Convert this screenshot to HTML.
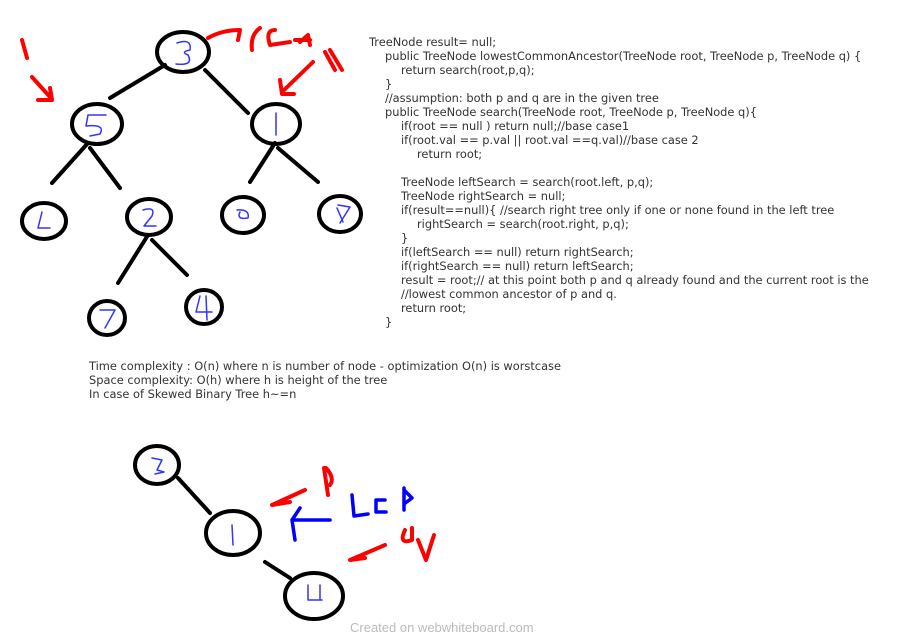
<!DOCTYPE html><html><head><style>
body{margin:0;width:897px;height:638px;background:#fff;position:relative;overflow:hidden;font-family:"DejaVu Sans",Verdana,sans-serif}
.c{position:absolute;left:369px;top:35px;font-size:11.4px;line-height:14px;color:#333;white-space:pre}
.c div{height:14px}
.i1{padding-left:16px}.i2{padding-left:32px}.i3{padding-left:48px}
.b{position:absolute;left:89px;top:359px;font-size:11.4px;line-height:14px;color:#333;white-space:pre}
.f{position:absolute;left:350px;top:620px;font-size:13px;color:#bbb;font-family:"Liberation Sans",sans-serif}
svg{position:absolute;left:0;top:0}
</style></head><body>
<svg width="897" height="638" fill="none" stroke-linecap="round" stroke-linejoin="round">
<g stroke="#000" stroke-width="4">
<ellipse cx="183" cy="52" rx="26" ry="20"/><ellipse cx="97" cy="124" rx="25" ry="20"/><ellipse cx="276" cy="124" rx="24" ry="20"/>
<ellipse cx="44" cy="221" rx="22" ry="18"/><ellipse cx="149" cy="217" rx="22" ry="18"/><ellipse cx="243" cy="215" rx="21" ry="18"/><ellipse cx="340" cy="214" rx="21" ry="18"/>
<ellipse cx="107" cy="318" rx="18" ry="17"/><ellipse cx="204" cy="307" rx="18" ry="17"/>
<path d="M165 65 L110 98 M205 70 L248 113 M88 143 L52 183 M90 148 L120 188 M275 143 L250 182 M278 148 L318 182 M148 235 L118 283 M152 240 L187 275"/>
<ellipse cx="157" cy="465" rx="22" ry="19"/><ellipse cx="233" cy="533" rx="27" ry="22"/><ellipse cx="314" cy="596" rx="29" ry="23"/>
<path d="M178 478 L210 513 M265 562 L290 578"/>
</g>
<g stroke="#f00" stroke-width="4">
<path d="M22 40 L27 58 M32 77 L50 97 M38 100 L52 100 L50 88"/>
<path d="M208 38 Q222 30 240 30 L238 40 M260 28 Q250 35 252 50 M275 30 Q265 30 270 45 L290 42 M300 42 L308 35 L310 45 M295 40 L310 40"/>
<path d="M313 62 L282 92 M280 80 L282 94 L294 94 M325 52 L335 70 M330 50 L342 70"/>
<path d="M305 490 L272 505 L290 502 M324 468 L328 495 M326 468 Q335 478 330 485"/>
<path d="M385 545 L350 560 L365 558 M405 530 Q398 545 412 540 L412 528 M418 540 L426 560 L434 535"/>
</g>
<g stroke="#00f" stroke-width="3.5"><path d="M330 520 L292 520 M300 508 L292 520 L295 540 M352 495 L354 516 L368 514 M385 500 L376 500 L376 512 L386 512 M404 488 L404 510 M404 490 L412 498 L404 504"/></g>
<g stroke="#33f" stroke-width="1.5">
<path d="M177 43 Q192 38 190 50 Q180 52 188 55 Q194 66 176 64"/><path d="M106 115 L88 115 L86 126 Q106 124 100 134 L90 136"/><path d="M276 113 L276 135"/>
<path d="M42 212 L38 228 L50 228"/><path d="M143 210 Q156 206 152 216 L144 226 L156 226"/><path d="M237 210 Q250 209 248 218 Q236 220 240 212"/><path d="M338 205 L350 207 L340 223 M337 208 L343 222"/>
<path d="M100 310 L115 310 L105 328"/><path d="M200 296 L196 312 L212 312 M206 296 L207 320"/>
<path d="M152 458 L162 460 L157 470 L164 472 L155 474"/><path d="M232 525 L233 545"/><path d="M308 585 L308 600 L322 600 M320 585 L320 600"/>
</g></svg>
<div class="c"><div>TreeNode result= null;</div><div class="i1">public TreeNode lowestCommonAncestor(TreeNode root, TreeNode p, TreeNode q) {</div><div class="i2">return search(root,p,q);</div><div class="i1">}</div><div class="i1">//assumption: both p and q are in the given tree</div><div class="i1">public TreeNode search(TreeNode root, TreeNode p, TreeNode q){</div><div class="i2">if(root == null ) return null;//base case1</div><div class="i2">if(root.val == p.val || root.val ==q.val)//base case 2</div><div class="i3">return root;</div><div></div><div class="i2">TreeNode leftSearch = search(root.left, p,q);</div><div class="i2">TreeNode rightSearch = null;</div><div class="i2">if(result==null){ //search right tree only if one or none found in the left tree</div><div class="i3">rightSearch = search(root.right, p,q);</div><div class="i2">}</div><div class="i2">if(leftSearch == null) return rightSearch;</div><div class="i2">if(rightSearch == null) return leftSearch;</div><div class="i2">result = root;// at this point both p and q already found and the current root is the</div><div class="i2">//lowest common ancestor of p and q.</div><div class="i2">return root;</div><div class="i1">}</div></div>
<div class="b">Time complexity : O(n) where n is number of node - optimization O(n) is worstcase
Space complexity: O(h) where h is height of the tree
In case of Skewed Binary Tree h~=n</div>
<div class="f">Created on webwhiteboard.com</div>
</body></html>
